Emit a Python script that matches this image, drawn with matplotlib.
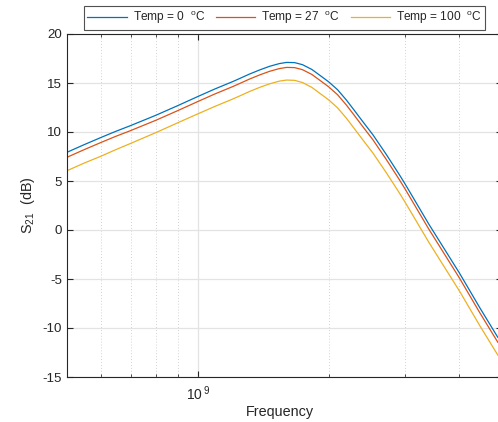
import matplotlib
matplotlib.use("Agg")
import matplotlib.pyplot as plt
from matplotlib.ticker import LogLocator, NullFormatter, FixedLocator, FixedFormatter

plt.rcParams['font.family'] = ['Liberation Sans', 'DejaVu Sans']
plt.rcParams['mathtext.default'] = 'regular'
plt.rcParams['axes.unicode_minus'] = False

# frequencies (Hz)
freq = [5.0e8, 5.47e8, 6.0e8, 6.46e8, 7.0e8, 8.0e8, 9.0e8, 1.0e9, 1.093e9,
        1.204e9, 1.247e9, 1.313e9, 1.387e9, 1.462e9, 1.540e9, 1.600e9,
        1.670e9, 1.741e9, 1.830e9, 1.907e9, 2.0e9, 2.096e9, 2.198e9,
        2.29e9, 2.388e9, 2.53e9, 2.715e9, 2.913e9, 3.0e9, 3.4e9, 4.0e9,
        4.45e9, 4.9e9]
s21_t0 = [7.93, 8.70, 9.46, 10.05, 10.65, 11.70, 12.70, 13.62, 14.38,
          15.15, 15.45, 15.90, 16.33, 16.70, 16.98, 17.10, 17.08, 16.87,
          16.38, 15.80, 15.12, 14.32, 13.25, 12.22, 11.15, 9.70, 7.70,
          5.60, 4.68, 0.60, -4.40, -7.90, -10.95]
s21_t27 = [7.42, 8.19, 8.95, 9.54, 10.14, 11.19, 12.19, 13.11, 13.87,
           14.64, 14.94, 15.39, 15.82, 16.19, 16.47, 16.59, 16.57, 16.36,
           15.87, 15.29, 14.61, 13.81, 12.74, 11.71, 10.64, 9.19, 7.19,
           5.09, 4.17, 0.09, -4.91, -8.41, -11.45]
s21_t100 = [6.05, 6.82, 7.55, 8.18, 8.83, 9.93, 10.95, 11.85, 12.60,
            13.37, 13.67, 14.12, 14.55, 14.91, 15.19, 15.30, 15.27, 15.05,
            14.55, 13.96, 13.28, 12.47, 11.40, 10.36, 9.29, 7.84, 5.84,
            3.74, 2.82, -1.25, -6.23, -9.73, -12.76]
labels = ['Temp = 0  $^{o}$C', 'Temp = 27  $^{o}$C', 'Temp = 100  $^{o}$C']
colors = ['#0072BD', '#D95319', '#EDB120']

fig = plt.figure(figsize=(4.98, 4.22), dpi=100)
ax = fig.add_axes([67/498, 45/422, (501.6-67)/498, (377-34)/422])

for ys, lab, c in zip([s21_t0, s21_t27, s21_t100], labels, colors):
    ax.plot(freq, ys, color=c, lw=0.9, label=lab)

ax.set_xscale('log')
ax.set_xlim(5e8, 5e9)
ax.set_ylim(-15, 20)
ax.set_yticks(range(-15, 21, 5))
ax.xaxis.set_major_locator(FixedLocator([1e9]))
ax.xaxis.set_major_formatter(FixedFormatter(['10$^{\\,9}$']))
ax.xaxis.set_minor_locator(LogLocator(base=10, subs=range(2, 10), numticks=20))
ax.xaxis.set_minor_formatter(NullFormatter())

ax.grid(True, which='major', color='#E3E3E3', lw=0.9, ls='-')
ax.grid(True, which='minor', axis='x', color='#C4C4C4', lw=0.6, ls=(0, (1, 2.5)))
ax.set_axisbelow(True)

ax.tick_params(which='both', direction='in', top=True, right=True,
               colors='#262626', labelsize=9.6, labelcolor='#262626')
ax.tick_params(which='major', length=4, width=0.8)
ax.tick_params(which='minor', length=2.5, width=0.6)
ax.tick_params(axis='x', which='major', pad=5, labelsize=10)
for sp in ax.spines.values():
    sp.set_color('#262626')
    sp.set_linewidth(0.8)

ax.set_xlabel('Frequency', fontsize=10.4, color='#262626', va='center')
ax.xaxis.set_label_coords((280 - 67) / 434.6, (377 - 412) / 343)
ax.set_ylabel('S$_{21}$  (dB)', fontsize=10.4, color='#262626', labelpad=4)

leg = ax.legend(loc='lower center', bbox_to_anchor=(0.5, 1.005), ncol=3,
                fontsize=8.6, frameon=True, fancybox=False, handlelength=3.3,
                columnspacing=0.9, handletextpad=0.5, borderpad=0.3,
                borderaxespad=0.2)
leg.get_frame().set_edgecolor('#262626')
leg.get_frame().set_linewidth(0.8)
for t in leg.get_texts():
    t.set_color('#262626')

fig.savefig('out.png', dpi=100)
